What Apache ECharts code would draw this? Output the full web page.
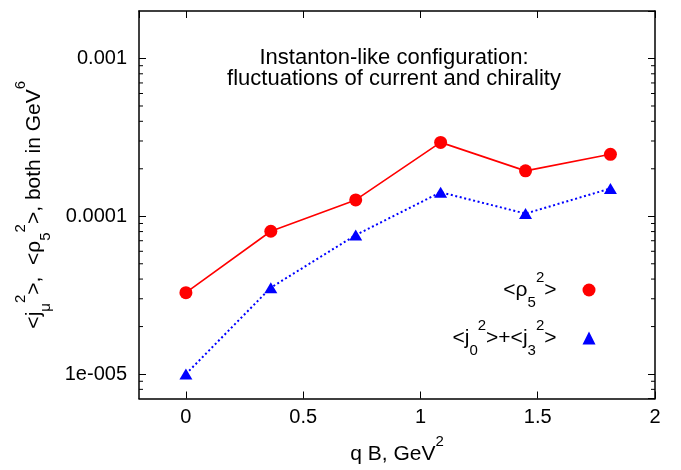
<!DOCTYPE html>
<html>
<head>
<meta charset="utf-8">
<script src="https://cdn.jsdelivr.net/npm/echarts@6/dist/echarts.min.js"></script>
<style>html,body{margin:0;padding:0;background:#fff}#c{width:681px;height:470px}</style>
</head>
<body>
<div id="c"></div>
<script>
// ---- data ----
const qB = [0, 0.362, 0.724, 1.086, 1.448, 1.81];
const rho5sq = [3.28e-5, 8.04e-5, 1.27e-4, 2.94e-4, 1.94e-4, 2.47e-4];
const jsq = [1.0e-5, 3.53e-5, 7.6e-5, 1.42e-4, 1.04e-4, 1.50e-4];
const yTickValues = [1e-5, 1e-4, 1e-3];
const yTickLabels = ['1e-005', '0.0001', '0.001'];
const yMinorTicks = [8e-6, 9e-6,
  2e-5, 3e-5, 4e-5, 5e-5, 6e-5, 7e-5, 8e-5, 9e-5,
  2e-4, 3e-4, 4e-4, 5e-4, 6e-4, 7e-4, 8e-4, 9e-4];
const xRange = [-0.2, 2];
const yRange = [7e-6, 2e-3];
const legendLabels = {
  rho: '{b|<ρ}{sub|5}{sup|2}{b|>}',
  j: '{b|<j}{sub|0}{sup|2}{b|>+<j}{sub|3}{sup|2}{b|>}'
};
const titleLines = ['Instanton-like configuration:', 'fluctuations of current and chirality'];
const xName = '{b|q B, GeV}{sup|2}';
const yName = '{b|<j}{sub|μ}{sup|2}{b|>,  <ρ}{sub|5}{sup|2}{b|>, both in GeV}{sup|6}';

const FF = '"Liberation Sans", Arial, Helvetica, sans-serif';
const FS = 20;
const FS2 = 21;
const rich = {
  b: {fontSize: FS2, fontFamily: FF, color: '#000', lineHeight: 40},
  sup: {fontSize: 15, fontFamily: FF, color: '#000', lineHeight: 16, verticalAlign: 'top'},
  sub: {fontSize: 15, fontFamily: FF, color: '#000', lineHeight: 24, verticalAlign: 'bottom'}
};

function yLabel(v) {
  for (let i = 0; i < yTickValues.length; i++) {
    if (Math.abs(Math.log10(v) - Math.log10(yTickValues[i])) < 1e-6) return yTickLabels[i];
  }
  return '';
}

const chart = echarts.init(document.getElementById('c'), null, {renderer: 'canvas'});

const axisLine = {show: true, onZero: false, lineStyle: {color: '#000', width: 1.5}};
const tick = {show: true, inside: true, length: 7, lineStyle: {color: '#000', width: 1}};

chart.setOption({
  animation: false,
  backgroundColor: '#fff',
  grid: {left: 139, right: 26, top: 11, bottom: 70, containLabel: false},
  graphic: [{
    type: 'text', x: 394, y: 48,
    style: {text: titleLines.join('\n'), fontSize: 22, fontFamily: FF, fill: '#000',
      align: 'center', verticalAlign: 'top', lineHeight: 20.6}
  }],
  legend: {
    orient: 'vertical', right: 85.5, top: 270, align: 'right', padding: 0,
    itemWidth: 13, itemHeight: 13, itemGap: 8,
    data: [{name: 'rho', icon: 'circle'}, {name: 'j', icon: 'triangle'}],
    formatter: n => legendLabels[n],
    textStyle: {color: '#000', fontSize: FS2, fontFamily: FF, rich: rich, padding: [0, 21, 0, 0]},
    selectedMode: false
  },
  xAxis: [{
    type: 'value', position: 'bottom', min: xRange[0], max: xRange[1],
    axisLine: axisLine, axisTick: tick, splitLine: {show: false},
    axisLabel: {color: '#000', fontSize: FS, fontFamily: FF, margin: 9, showMinLabel: false},
    name: xName, nameLocation: 'middle', nameGap: 36,
    nameTextStyle: {rich: rich, fontSize: FS2, fontFamily: FF, color: '#000'}
  }, {
    type: 'value', position: 'top', min: xRange[0], max: xRange[1],
    axisLine: axisLine, axisTick: tick, splitLine: {show: false},
    axisLabel: {show: false}
  }],
  yAxis: [{
    type: 'log', logBase: 10, position: 'left', min: yRange[0], max: yRange[1],
    axisLine: axisLine, axisTick: tick, splitLine: {show: false}, minorTick: {show: false},
    axisLabel: {color: '#000', fontSize: FS, fontFamily: FF, margin: 12,
      showMinLabel: false, showMaxLabel: false, formatter: yLabel},
    name: yName, nameLocation: 'middle', nameGap: 83, nameRotate: 90,
    nameTextStyle: {rich: rich, fontSize: FS2, fontFamily: FF, color: '#000'}
  }, {
    type: 'log', logBase: 10, position: 'right', min: yRange[0], max: yRange[1],
    axisLine: axisLine, axisTick: tick, splitLine: {show: false},
    axisLabel: {show: false}
  }],
  series: [{
    name: 'rho', type: 'line', xAxisIndex: 0, yAxisIndex: 0,
    data: qB.map((x, i) => [x, rho5sq[i]]),
    symbol: 'circle', symbolSize: 13, showAllSymbol: true,
    itemStyle: {color: '#ff0000'},
    lineStyle: {color: '#ff0000', width: 1.6, type: 'solid'},
    z: 3
  }, {
    name: 'j', type: 'line', xAxisIndex: 0, yAxisIndex: 0,
    data: qB.map((x, i) => [x, jsq[i]]),
    symbol: 'triangle', symbolSize: [13, 11], showAllSymbol: true,
    itemStyle: {color: '#0000ff'},
    lineStyle: {color: '#0000ff', width: 2, type: [2, 2.6]},
    z: 3
  }, {
    type: 'custom', xAxisIndex: 0, yAxisIndex: 0, silent: true, clip: false,
    data: yMinorTicks.map(v => [0, v]),
    renderItem: function (params, api) {
      const v = api.value(1);
      const pL = api.coord([xRange[0], v]);
      const pR = api.coord([xRange[1], v]);
      return {
        type: 'group', children: [
          {type: 'line', shape: {x1: pL[0], y1: pL[1], x2: pL[0] + 4, y2: pL[1]}, style: {stroke: '#000', lineWidth: 1}},
          {type: 'line', shape: {x1: pR[0], y1: pR[1], x2: pR[0] - 4, y2: pR[1]}, style: {stroke: '#000', lineWidth: 1}}
        ]
      };
    },
    z: 2
  }]
});
</script>
</body>
</html>
